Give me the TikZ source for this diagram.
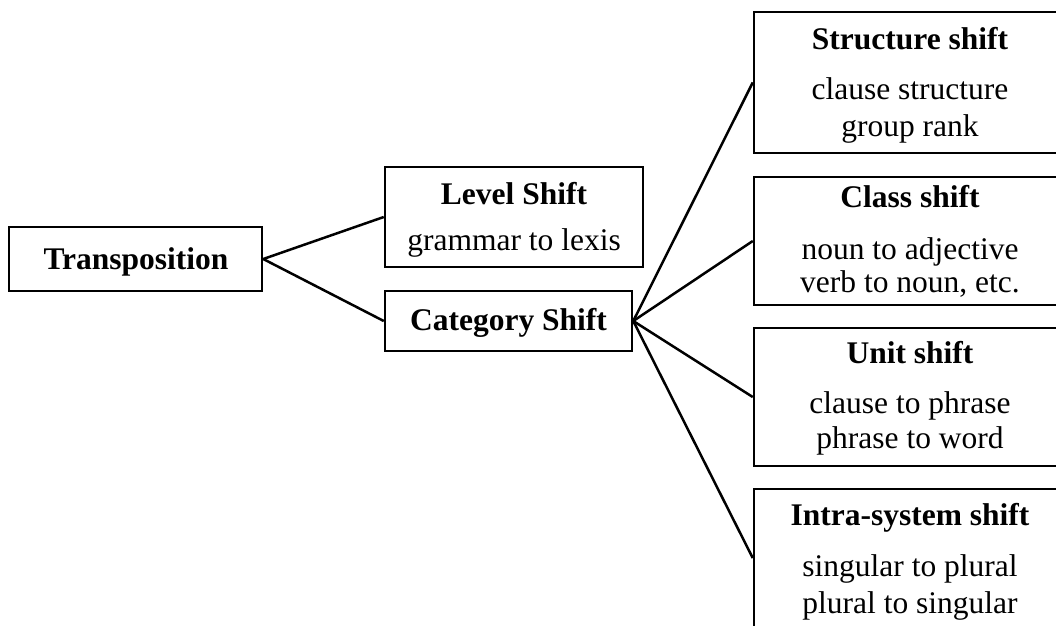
\documentclass[tikz,border=0pt]{standalone}
\usepackage{fontspec}
\setmainfont{Liberation Serif}
\tikzset{
    box/.style={draw, line width=2.5pt, inner sep=0pt},
    txt/.style={anchor=base, inner sep=0pt, font=\fontsize{31.5}{36}\selectfont},
    head/.style={txt, font=\fontsize{31.5}{36}\selectfont\bfseries},
    link/.style={line width=2.5pt}
}
\begin{document}
\begin{tikzpicture}[x=1pt, y=-1pt]
    \useasboundingbox (0, 0) rectangle (1056, 625);
    % left part of the tree
    \node [box, minimum width=253, minimum height=64] (trans) at (135.5, 259) {};
    \node [head] (transT) at (136, 269) {Transposition};
    \node [box, minimum width=258, minimum height=100] (level) at (514, 217) {};
    \node [head] (levelT) at (514, 204) {Level Shift};
    \node [txt] (levelB) at (514, 250) {grammar to lexis};
    \node [box, minimum width=247, minimum height=60] (cat) at (508.5, 321) {};
    \node [head] (catT) at (508.5, 330) {Category Shift};
    % right column, boxes run off the page
    \node [box, minimum width=314, minimum height=141] (struct) at (911, 82.5) {};
    \node [head] (structT) at (910, 49) {Structure shift};
    \node [txt] (structB) at (910, 99) {clause structure};
    \node [txt] (structC) at (910, 136) {group rank};
    \node [box, minimum width=314, minimum height=128] (class) at (911, 241) {};
    \node [head] (classT) at (910, 207) {Class shift};
    \node [txt] (classB) at (910, 259) {noun to adjective};
    \node [txt] (classC) at (910, 292) {verb to noun, etc.};
    \node [box, minimum width=314, minimum height=138] (unit) at (911, 397) {};
    \node [head] (unitT) at (910, 363) {Unit shift};
    \node [txt] (unitB) at (910, 413) {clause to phrase};
    \node [txt] (unitC) at (910, 448) {phrase to word};
    \node [box, minimum width=314, minimum height=138] (intra) at (911, 558) {};
    \node [head] (intraT) at (910, 525) {Intra-system shift};
    \node [txt] (intraB) at (910, 576) {singular to plural};
    \node [txt] (intraC) at (910, 613) {plural to singular};
    % connectors
    \draw [link] (trans.east) -- (level.west);
    \draw [link] (trans.east) -- (cat.west);
    \foreach \n in {struct, class, unit, intra}
        \draw [link] (cat.east) -- (\n.west);
\end{tikzpicture}
\end{document}
